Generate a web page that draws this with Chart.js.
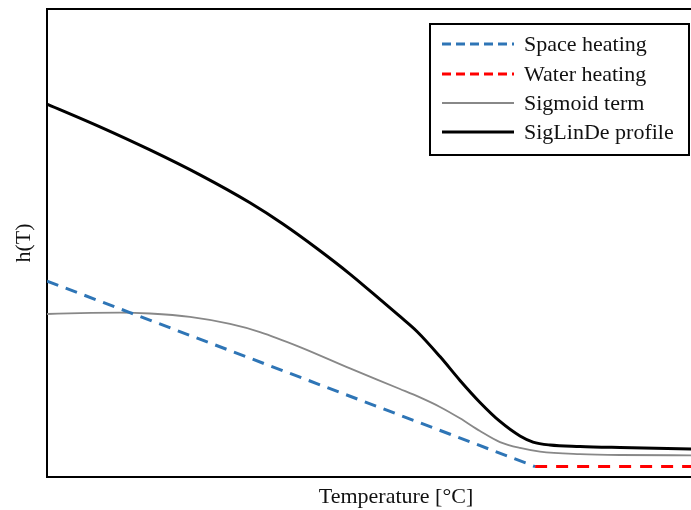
<!DOCTYPE html>
<html>
<head>
<meta charset="utf-8">
<script src="https://cdn.jsdelivr.net/npm/chart.js@4.4.1/dist/chart.umd.min.js"></script>
<style>
  html, body { margin: 0; padding: 0; background: #fff; overflow: hidden; }
  #wrap { width: 691px; height: 510px; overflow: hidden; position: relative; }
  canvas { display: block; }
</style>
</head>
<body>
<div id="wrap"><canvas id="c" width="750" height="510" style="width:750px;height:510px"></canvas></div>
<script>
// ---- Data ----
const tempMin = -15, tempMax = 28;
const hMin = 0, hMax = 3;

const legendLabels = ['Space heating', 'Water heating', 'Sigmoid term', 'SigLinDe profile'];

const spaceT = [-15, 15.07];
const spaceH = [1.256, 0.067];

const waterT = [15.07, 28];
const waterH = [0.067, 0.067];

const sigmoidT = [-15, -12.967, -10.503, -8.655, -6.191, -3.726, -1.878, 0.586, 3.666, 6.746, 7.978, 9.211, 10.443, 11.675, 12.907, 14.139, 15.371, 17.835, 20.299, 24.673, 28];
const sigmoidH = [1.045, 1.051, 1.054, 1.048, 1.026, 0.981, 0.929, 0.833, 0.696, 0.564, 0.510, 0.449, 0.376, 0.295, 0.224, 0.186, 0.163, 0.147, 0.141, 0.139, 0.138];

const profileT = [-15, -11.735, -8.655, -5.575, -2.494, -0.462, 1.633, 3.666, 5.699, 6.746, 7.794, 9.211, 10.443, 11.675, 12.907, 14.139, 14.940, 15.987, 17.835, 20.299, 24.673, 28];
const profileH = [2.391, 2.245, 2.097, 1.937, 1.758, 1.622, 1.465, 1.301, 1.122, 1.029, 0.933, 0.772, 0.619, 0.478, 0.356, 0.263, 0.224, 0.205, 0.196, 0.189, 0.179, 0.173];

const toPts = (xs, ys) => xs.map((x, i) => ({ x: x, y: ys[i] }));

const styles = [
  { color: '#2E75B6', width: 3, dash: [12, 8], legendDash: [9, 5] },
  { color: '#FF0000', width: 3, dash: [12, 9], legendDash: [9, 5] },
  { color: '#888888', width: 1.8, dash: [], legendDash: [] },
  { color: '#000000', width: 3, dash: [], legendDash: [] }
];

const seriesData = [toPts(spaceT, spaceH), toPts(waterT, waterH), toPts(sigmoidT, sigmoidH), toPts(profileT, profileH)];

const datasets = seriesData.map((d, i) => ({
  label: legendLabels[i],
  data: d,
  borderColor: styles[i].color,
  borderWidth: styles[i].width,
  borderDash: styles[i].dash,
  pointRadius: 0,
  fill: false,
  showLine: true,
  tension: 0.4,
  cubicInterpolationMode: 'monotone'
}));

const serif = "'Liberation Serif', 'Times New Roman', serif";

const legendBox = {
  id: 'legendBox',
  afterDraw(chart) {
    const ctx = chart.ctx;
    ctx.save();
    ctx.fillStyle = '#fff';
    ctx.fillRect(430, 24, 259, 131);
    ctx.strokeStyle = '#000';
    ctx.lineWidth = 2;
    ctx.setLineDash([]);
    ctx.strokeRect(430, 24, 259, 131);
    const rows = [44, 74, 103, 132];
    legendLabels.forEach((lab, i) => {
      const s = styles[i];
      ctx.beginPath();
      ctx.strokeStyle = s.color;
      ctx.lineWidth = s.width;
      ctx.setLineDash(s.legendDash);
      ctx.lineCap = 'butt';
      ctx.moveTo(442, rows[i]);
      ctx.lineTo(514, rows[i]);
      ctx.stroke();
      ctx.setLineDash([]);
      ctx.fillStyle = '#111';
      ctx.font = '22px ' + serif;
      ctx.textBaseline = 'middle';
      ctx.textAlign = 'left';
      ctx.fillText(lab, 524, rows[i] + 1);
    });
    ctx.restore();
  }
};

new Chart(document.getElementById('c'), {
  type: 'scatter',
  data: { datasets: datasets },
  options: {
    responsive: false,
    animation: false,
    devicePixelRatio: 1,
    layout: { padding: { top: 9, right: 5, left: 0, bottom: 0 } },
    plugins: { legend: { display: false }, tooltip: { enabled: false } },
    scales: {
      x: {
        type: 'linear', position: 'bottom', min: tempMin, max: tempMax,
        grid: { display: false },
        border: { display: true, color: '#000', width: 2 },
        ticks: { display: false },
        title: { display: true, text: 'Temperature [°C]', color: '#111', font: { family: serif, size: 22 }, padding: { top: 0, bottom: 0 } },
        afterFit(scale) { scale.height = 33; }
      },
      x2: {
        type: 'linear', position: 'top', min: tempMin, max: tempMax,
        grid: { display: false },
        border: { display: true, color: '#000', width: 2 },
        ticks: { display: false },
        afterFit(scale) { scale.height = 0; }
      },
      y: {
        type: 'linear', position: 'left', min: hMin, max: hMax,
        grid: { display: false },
        border: { display: true, color: '#000', width: 2 },
        ticks: { display: false },
        title: { display: true, text: 'h(T)', color: '#111', font: { family: serif, size: 22 }, padding: { top: 11, bottom: 0 } },
        afterFit(scale) { scale.width = 47; }
      }
    }
  },
  plugins: [legendBox]
});
</script>
</body>
</html>
